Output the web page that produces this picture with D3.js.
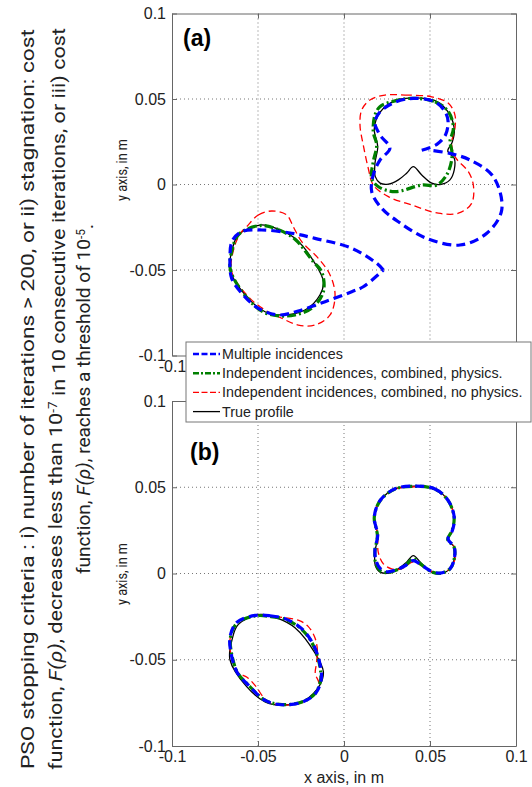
<!DOCTYPE html>
<html>
<head>
<meta charset="UTF-8">
<script src="https://d3js.org/d3.v7.min.js"></script>
<style>
  body { margin: 0; background: #fff; }
  svg { display: block; }
  .tick text { font-family: "Liberation Sans", Arial, sans-serif; font-size: 16px; fill: #222; }
  .note { font-family: "Liberation Sans Narrow", "Roboto", sans-serif; fill: #222; }
</style>
</head>
<body>
<svg id="chart" width="532" height="787"></svg>
<script>
// tick values shared by both panels
const tickVals = [-0.1, -0.05, 0, 0.05, 0.1];
const tickLabels = ["-0.1", "-0.05", "0", "0.05", "0.1"];
const gridVals = [-0.05, 0, 0.05];

const seriesNames = [
  "Multiple incidences",
  "Independent incidences, combined, physics.",
  "Independent incidences, combined, no physics.",
  "True profile"
];

// true profile (same in both panels)
const trueRight = [[0.0413,0.0507],[0.0529,0.0490],[0.0606,0.0423],[0.0641,0.0326],[0.0630,0.0249],[0.0603,0.0195],[0.0641,0.0153],[0.0641,0.0085],[0.0616,0.0027],[0.0558,0.0000],[0.0510,0.0008],[0.0452,0.0056],[0.0403,0.0104],[0.0364,0.0066],[0.0316,0.0027],[0.0258,0.0002],[0.0210,0.0008],[0.0182,0.0046],[0.0180,0.0124],[0.0196,0.0220],[0.0176,0.0326],[0.0210,0.0423],[0.0297,0.0491]];
const trueLeft = [[-0.0488,-0.0237],[-0.0380,-0.0262],[-0.0285,-0.0315],[-0.0169,-0.0461],[-0.0120,-0.0568],[-0.0140,-0.0646],[-0.0227,-0.0734],[-0.0362,-0.0763],[-0.0459,-0.0744],[-0.0566,-0.0656],[-0.0663,-0.0500],[-0.0650,-0.0380],[-0.0614,-0.0295]];

// panel (a)
const multiRightA = [[0.0452,0.0200],[0.0540,0.0235],[0.0590,0.0290],[0.0605,0.0370],[0.0585,0.0430],[0.0530,0.0482],[0.0403,0.0504],[0.0290,0.0478],[0.0205,0.0420],[0.0180,0.0360],[0.0209,0.0290],[0.0267,0.0212],[0.0209,0.0143],[0.0170,0.0056],[0.0161,-0.0042],[0.0219,-0.0139],[0.0316,-0.0218],[0.0481,-0.0315],[0.0674,-0.0354],[0.0830,-0.0285],[0.0917,-0.0149],[0.0868,0.0046],[0.0733,0.0143],[0.0616,0.0182],[0.0490,0.0202]];
const multiLeftA = [[0.0229,-0.0500],[0.0190,-0.0461],[0.0045,-0.0373],[-0.0169,-0.0315],[-0.0304,-0.0285],[-0.0479,-0.0266],[-0.0595,-0.0276],[-0.0650,-0.0330],[-0.0663,-0.0432],[-0.0653,-0.0549],[-0.0595,-0.0636],[-0.0498,-0.0724],[-0.0382,-0.0763],[-0.0266,-0.0740],[-0.0110,-0.0685],[0.0045,-0.0627],[0.0112,-0.0598],[0.0229,-0.0500]];
const physRightA = [[0.0394,0.0504],[0.0529,0.0484],[0.0607,0.0426],[0.0636,0.0329],[0.0616,0.0250],[0.0626,0.0202],[0.0626,0.0143],[0.0597,0.0056],[0.0539,-0.0003],[0.0452,-0.0003],[0.0297,-0.0042],[0.0200,-0.0013],[0.0161,0.0036],[0.0170,0.0133],[0.0190,0.0231],[0.0170,0.0309],[0.0180,0.0406],[0.0209,0.0455],[0.0277,0.0484]];
const physLeftA = [[-0.0488,-0.0240],[-0.0380,-0.0265],[-0.0285,-0.0320],[-0.0180,-0.0450],[-0.0130,-0.0510],[-0.0120,-0.0627],[-0.0188,-0.0724],[-0.0285,-0.0763],[-0.0380,-0.0768],[-0.0470,-0.0745],[-0.0566,-0.0660],[-0.0660,-0.0500],[-0.0650,-0.0380],[-0.0610,-0.0290]];
const noPhysRightA = [[0.0238,0.0523],[0.0355,0.0523],[0.0510,0.0513],[0.0607,0.0475],[0.0645,0.0406],[0.0645,0.0329],[0.0626,0.0241],[0.0645,0.0163],[0.0723,0.0075],[0.0752,-0.0003],[0.0742,-0.0110],[0.0665,-0.0168],[0.0548,-0.0168],[0.0394,-0.0120],[0.0258,-0.0071],[0.0170,-0.0003],[0.0141,0.0095],[0.0112,0.0231],[0.0093,0.0348],[0.0103,0.0436],[0.0151,0.0494]];
const noPhysLeftA = [[-0.0566,-0.0247],[-0.0498,-0.0178],[-0.0420,-0.0155],[-0.0333,-0.0178],[-0.0295,-0.0247],[-0.0246,-0.0334],[-0.0149,-0.0432],[-0.0081,-0.0529],[-0.0052,-0.0646],[-0.0081,-0.0763],[-0.0169,-0.0822],[-0.0266,-0.0822],[-0.0362,-0.0782],[-0.0459,-0.0734],[-0.0556,-0.0656],[-0.0653,-0.0510],[-0.0634,-0.0354],[-0.0595,-0.0276]];

// panel (b)
const multiRightB = [[0.0413,0.0507],[0.0529,0.0490],[0.0606,0.0423],[0.0641,0.0326],[0.0630,0.0249],[0.0605,0.0200],[0.0641,0.0153],[0.0641,0.0085],[0.0616,0.0027],[0.0558,0.0002],[0.0510,0.0012],[0.0455,0.0045],[0.0403,0.0075],[0.0355,0.0045],[0.0300,0.0020],[0.0250,0.0010],[0.0210,0.0030],[0.0185,0.0080],[0.0180,0.0140],[0.0196,0.0220],[0.0176,0.0326],[0.0210,0.0423],[0.0297,0.0491]];
const multiLeftB = [[-0.0516,-0.0243],[-0.0430,-0.0245],[-0.0341,-0.0263],[-0.0244,-0.0321],[-0.0186,-0.0398],[-0.0147,-0.0495],[-0.0132,-0.0610],[-0.0167,-0.0697],[-0.0244,-0.0746],[-0.0360,-0.0761],[-0.0458,-0.0736],[-0.0554,-0.0649],[-0.0622,-0.0572],[-0.0661,-0.0437],[-0.0661,-0.0359],[-0.0622,-0.0282]];
const physRightB = [[0.0413,0.0505],[0.0529,0.0489],[0.0606,0.0422],[0.0640,0.0326],[0.0628,0.0249],[0.0603,0.0197],[0.0640,0.0153],[0.0641,0.0085],[0.0616,0.0027],[0.0558,0.0001],[0.0510,0.0010],[0.0452,0.0050],[0.0403,0.0085],[0.0360,0.0050],[0.0310,0.0022],[0.0255,0.0005],[0.0212,0.0015],[0.0184,0.0060],[0.0180,0.0130],[0.0194,0.0220],[0.0176,0.0326],[0.0210,0.0422],[0.0297,0.0490]];
const physLeftB = [[-0.0510,-0.0245],[-0.0425,-0.0250],[-0.0335,-0.0268],[-0.0245,-0.0325],[-0.0186,-0.0402],[-0.0150,-0.0495],[-0.0135,-0.0610],[-0.0168,-0.0695],[-0.0245,-0.0745],[-0.0360,-0.0760],[-0.0458,-0.0735],[-0.0552,-0.0650],[-0.0620,-0.0572],[-0.0658,-0.0437],[-0.0658,-0.0359],[-0.0620,-0.0285]];
const noPhysRightB = [[0.0413,0.0502],[0.0529,0.0488],[0.0606,0.0422],[0.0641,0.0326],[0.0630,0.0249],[0.0605,0.0200],[0.0641,0.0153],[0.0645,0.0085],[0.0616,0.0027],[0.0558,0.0003],[0.0510,0.0012],[0.0452,0.0045],[0.0403,0.0068],[0.0335,0.0027],[0.0277,0.0027],[0.0229,0.0056],[0.0199,0.0124],[0.0196,0.0220],[0.0176,0.0326],[0.0210,0.0423],[0.0297,0.0488]];
const noPhysLeftB = [[-0.0516,-0.0243],[-0.0400,-0.0250],[-0.0263,-0.0272],[-0.0210,-0.0305],[-0.0170,-0.0370],[-0.0155,-0.0440],[-0.0160,-0.0520],[-0.0167,-0.0580],[-0.0145,-0.0640],[-0.0170,-0.0700],[-0.0244,-0.0748],[-0.0360,-0.0762],[-0.0450,-0.0735],[-0.0516,-0.0650],[-0.0564,-0.0601],[-0.0615,-0.0575],[-0.0655,-0.0480],[-0.0661,-0.0370],[-0.0622,-0.0285]];

const styles = [
  { color: "#0000ff", width: 3.2, dash: "9,5" },
  { color: "#008000", width: 3.2, dash: "9,3,2,3" },
  { color: "#ff0000", width: 1.3, dash: "7,4" },
  { color: "#000000", width: 1.3, dash: null }
];

// panel (a) sits under the legend: only its first x tick label and no x title show
const panels = [
  { tag: "(a)", top: 13.5, bottom: 355.5, tagX: 183, tagY: 46, labelY: 170, xLabels: [-0.1], xTitle: false,
    curves: [
      [3, trueRight, true], [3, trueLeft, true],
      [2, noPhysRightA, true], [2, noPhysLeftA, true],
      [1, physRightA, true], [1, physLeftA, true],
      [0, multiRightA, false], [0, multiLeftA, false]
    ] },
  { tag: "(b)", top: 401, bottom: 746, tagX: 190, tagY: 460, labelY: 574, xLabels: tickVals, xTitle: true,
    curves: [
      [3, trueRight, true], [3, trueLeft, true],
      [2, noPhysRightB, true], [2, noPhysLeftB, true],
      [1, physRightB, true], [1, physLeftB, true],
      [0, multiRightB, true], [0, multiLeftB, true]
    ] }
];

const svg = d3.select("#chart");
const left = 172, right = 516;
const fmt = d => tickLabels[tickVals.indexOf(d)];

panels.forEach(p => {
  const x = d3.scaleLinear().domain([-0.1, 0.1]).range([left, right]);
  const y = d3.scaleLinear().domain([-0.1, 0.1]).range([p.bottom, p.top]);
  const g = svg.append("g");

  // grid
  gridVals.forEach(v => {
    g.append("line").attr("x1", x(v)).attr("x2", x(v)).attr("y1", y(-0.1)).attr("y2", y(0.1))
      .attr("stroke", "#777").attr("stroke-width", 1).attr("stroke-dasharray", "1,3");
    g.append("line").attr("x1", x(-0.1)).attr("x2", x(0.1)).attr("y1", y(v)).attr("y2", y(v))
      .attr("stroke", "#777").attr("stroke-width", 1).attr("stroke-dasharray", "1,3");
  });

  // axes, ticks pointing inward
  const xfmt = d => p.xLabels.includes(d) ? fmt(d) : "";
  const axes = [
    g.append("g").attr("transform", `translate(0,${p.bottom})`)
      .call(d3.axisBottom(x).tickValues(tickVals).tickFormat(xfmt).tickSizeInner(-5).tickSizeOuter(0).tickPadding(5)),
    g.append("g").attr("transform", `translate(${left},0)`)
      .call(d3.axisLeft(y).tickValues(tickVals).tickFormat(fmt).tickSizeInner(-5).tickSizeOuter(0).tickPadding(6)),
    g.append("g").attr("transform", `translate(0,${p.top})`)
      .call(d3.axisTop(x).tickValues(tickVals).tickFormat("").tickSizeInner(-5).tickSizeOuter(0)),
    g.append("g").attr("transform", `translate(${right},0)`)
      .call(d3.axisRight(y).tickValues(tickVals).tickFormat("").tickSizeInner(-5).tickSizeOuter(0))
  ];
  axes.forEach(a => {
    a.select(".domain").attr("stroke", "#666");
    a.selectAll(".tick line").attr("stroke", "#666");
  });

  // curves
  p.curves.forEach(([si, pts, closed]) => {
    const st = styles[si];
    const line = d3.line()
      .x(d => x(d[0])).y(d => y(d[1]))
      .curve(closed ? d3.curveCatmullRomClosed : d3.curveCatmullRom);
    g.append("path").datum(pts)
      .attr("fill", "none")
      .attr("stroke", st.color)
      .attr("stroke-width", st.width)
      .attr("stroke-dasharray", st.dash)
      .attr("stroke-linejoin", "round")
      .attr("d", line);
  });

  // panel tag
  g.append("text").attr("x", p.tagX).attr("y", p.tagY)
    .style("font-family", "Liberation Sans, Arial, sans-serif")
    .style("font-size", "23px").style("font-weight", "bold").text(p.tag);

  // y label
  g.append("text").attr("class", "note")
    .attr("transform", `translate(127,${p.labelY}) rotate(-90)`)
    .attr("text-anchor", "middle")
    .attr("textLength", 62).attr("lengthAdjust", "spacingAndGlyphs")
    .style("font-size", "15px").text("y axis, in m");

  // x label
  if (p.xTitle) {
    g.append("text").attr("x", (left + right) / 2).attr("y", p.bottom + 37)
      .attr("text-anchor", "middle")
      .style("font-family", "Liberation Sans, Arial, sans-serif")
      .style("font-size", "16px").style("fill", "#222").text("x axis, in m");
  }
});

// legend on top of both panels
const legend = svg.append("g").attr("transform", "translate(186,342)");
legend.append("rect").attr("width", 345).attr("height", 80)
  .attr("fill", "#fff").attr("stroke", "#777").attr("stroke-width", 1);
seriesNames.forEach((name, i) => {
  const row = legend.append("g").attr("transform", `translate(0,${12 + i * 19.2})`);
  const st = styles[i];
  row.append("line").attr("x1", 7).attr("x2", 34).attr("y1", 0).attr("y2", 0)
    .attr("stroke", st.color).attr("stroke-width", Math.min(st.width, 2.4))
    .attr("stroke-dasharray", i === 0 ? "6,2.5" : i === 1 ? "6,2,2,2" : i === 2 ? "6,2.5" : null);
  row.append("text").attr("x", 36).attr("y", 5)
    .style("font-family", "Liberation Sans, Arial, sans-serif")
    .style("font-size", "14.3px").style("fill", "#222").text(name);
});

// rotated note on the left
const note = [
  { x: 28, len: 740, parts: [["PSO stopping criteria : i) number of iterations > 200, or ii) stagnation: cost", ""]] },
  { x: 56, len: 742, parts: [["function, ", ""], ["F(", "i"], ["ρ", "i"], [")", "i"], [", decreases less than 10", ""], ["-7", "sup"], [" in 10 consecutive iterations, or iii) cost", "after"]] },
  { x: 84, len: 350, parts: [["function, ", ""], ["F(", "i"], ["ρ", "i"], [")", "i"], [", reaches a threshold of 10", ""], ["-5", "sup"], [".", "after"]] }
];
note.forEach(n => {
  const t = svg.append("text").attr("class", "note")
    .attr("transform", `translate(${n.x + 6},399) rotate(-90)`)
    .attr("text-anchor", "middle")
    .attr("textLength", n.len).attr("lengthAdjust", "spacingAndGlyphs")
    .style("font-size", "19px");
  n.parts.forEach(([s, kind]) => {
    const ts = t.append("tspan").text(s);
    if (kind === "i") ts.style("font-style", "italic");
    if (kind === "sup") ts.attr("dy", "-0.45em").style("font-size", "12px");
    if (kind === "after") ts.attr("dy", "0.45em");
  });
});
</script>
</body>
</html>
